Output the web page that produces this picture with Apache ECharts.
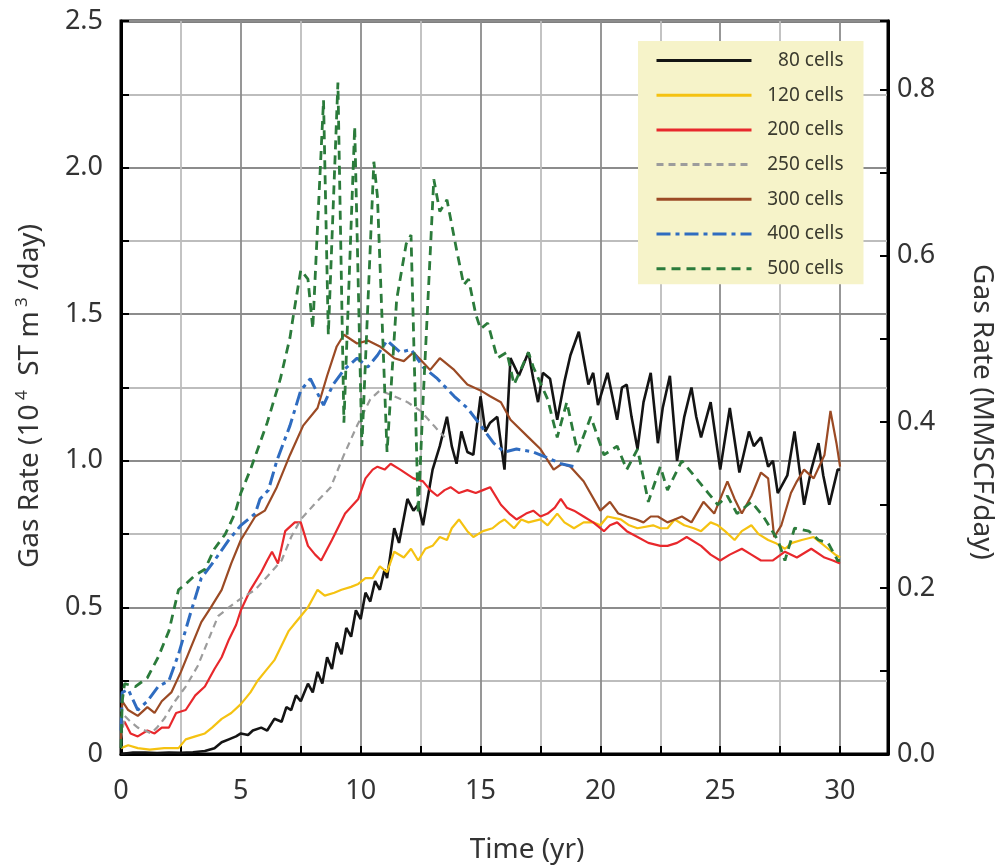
<!DOCTYPE html>
<html>
<head>
<meta charset="utf-8">
<script src="https://cdn.jsdelivr.net/npm/echarts@6/dist/echarts.min.js"></script>
<style>
html,body{margin:0;padding:0;background:#fff;}
#chart{width:1000px;height:868px;}
</style>
</head>
<body>
<div id="chart"></div>
<script>
// ---- data (time in years, rate in 10^4 ST m3/day) ----
const seriesNames = ['80 cells','120 cells','200 cells','250 cells','300 cells','400 cells','500 cells'];
const xTickLabels = ['0','5','10','15','20','25','30'];
const leftTickLabels = ['0','0.5','1.0','1.5','2.0','2.5'];
const rightTickLabels = ['0.0','0.2','0.4','0.6','0.8'];

const cells80 = [[0,0],[0.5,0.005],[1,0.005],[1.5,0.003],[2,0.005],[2.5,0.004],[3,0.006],[3.5,0.01],[3.9,0.02],[4.2,0.04],[4.5,0.05],[4.8,0.06],[5,0.07],[5.3,0.065],[5.5,0.08],[5.85,0.09],[6.1,0.08],[6.4,0.12],[6.7,0.11],[6.9,0.16],[7.1,0.15],[7.3,0.2],[7.5,0.18],[7.8,0.24],[8.0,0.21],[8.2,0.28],[8.4,0.24],[8.6,0.33],[8.8,0.29],[9.0,0.38],[9.2,0.34],[9.4,0.43],[9.6,0.4],[9.8,0.49],[10.0,0.46],[10.2,0.55],[10.4,0.52],[10.6,0.59],[10.8,0.56],[11.0,0.63],[11.1,0.6],[11.4,0.77],[11.6,0.72],[11.95,0.87],[12.2,0.83],[12.4,0.85],[12.6,0.78],[13.0,0.97],[13.3,1.05],[13.6,1.15],[13.8,1.05],[14.0,0.99],[14.2,1.1],[14.45,1.03],[14.7,1.02],[15.0,1.22],[15.2,1.1],[15.4,1.13],[15.7,1.15],[16.0,0.97],[16.25,1.35],[16.6,1.29],[17.0,1.37],[17.2,1.28],[17.4,1.2],[17.6,1.3],[17.9,1.28],[18.2,1.14],[18.5,1.27],[18.75,1.36],[19.1,1.44],[19.5,1.26],[19.7,1.3],[19.9,1.19],[20.3,1.3],[20.5,1.22],[20.7,1.14],[20.9,1.25],[21.1,1.26],[21.3,1.15],[21.55,1.04],[21.8,1.2],[22.1,1.3],[22.4,1.06],[22.6,1.18],[22.9,1.29],[23.2,1.0],[23.5,1.15],[23.8,1.25],[24.0,1.15],[24.2,1.08],[24.6,1.2],[25.0,0.97],[25.4,1.18],[25.8,0.96],[26.2,1.1],[26.4,1.05],[26.7,1.08],[27.0,0.98],[27.2,1.0],[27.4,0.89],[27.8,0.95],[28.1,1.1],[28.5,0.85],[28.8,0.97],[29.1,1.06],[29.3,0.95],[29.55,0.85],[29.9,0.97],[30,0.97]];

const cells120 = [[0,0.02],[0.3,0.03],[0.7,0.02],[1.2,0.015],[1.8,0.02],[2.4,0.02],[2.7,0.05],[3.1,0.06],[3.5,0.07],[3.8,0.09],[4.2,0.12],[4.6,0.14],[5,0.17],[5.4,0.21],[5.7,0.25],[6.0,0.28],[6.4,0.32],[6.7,0.37],[7.0,0.42],[7.3,0.45],[7.5,0.47],[7.8,0.5],[8.2,0.56],[8.5,0.54],[8.9,0.55],[9.2,0.56],[9.6,0.57],[9.9,0.58],[10.2,0.6],[10.5,0.6],[10.8,0.64],[11.1,0.62],[11.4,0.69],[11.8,0.67],[12.1,0.7],[12.4,0.66],[12.7,0.7],[13.0,0.71],[13.3,0.74],[13.6,0.73],[13.8,0.77],[14.1,0.8],[14.45,0.76],[14.7,0.74],[15.1,0.76],[15.5,0.77],[15.8,0.79],[16.0,0.8],[16.4,0.77],[16.7,0.8],[17.0,0.79],[17.5,0.8],[17.8,0.78],[18.2,0.82],[18.5,0.79],[18.9,0.77],[19.3,0.79],[19.7,0.79],[20.0,0.78],[20.3,0.81],[20.85,0.8],[21.2,0.78],[21.55,0.77],[22.2,0.78],[22.5,0.77],[22.8,0.77],[23.1,0.8],[23.5,0.78],[23.9,0.77],[24.2,0.76],[24.6,0.79],[24.9,0.78],[25.2,0.76],[25.6,0.73],[25.9,0.76],[26.3,0.78],[26.6,0.75],[27.0,0.73],[27.3,0.72],[27.7,0.7],[28.0,0.72],[28.4,0.73],[28.9,0.74],[29.2,0.72],[29.5,0.7],[29.8,0.68],[30,0.67]];

const cells200 = [[0,0.09],[0.15,0.11],[0.4,0.07],[0.7,0.06],[1.1,0.08],[1.4,0.07],[1.7,0.09],[2.0,0.09],[2.3,0.14],[2.7,0.15],[3.1,0.2],[3.5,0.23],[3.9,0.29],[4.2,0.33],[4.5,0.39],[4.8,0.44],[5,0.49],[5.4,0.56],[5.85,0.62],[6.1,0.66],[6.3,0.69],[6.55,0.65],[6.85,0.76],[7.25,0.79],[7.5,0.79],[7.8,0.71],[8.1,0.68],[8.35,0.66],[8.8,0.73],[9.35,0.82],[9.9,0.87],[10.2,0.94],[10.5,0.97],[10.7,0.98],[11.0,0.97],[11.25,0.99],[11.65,0.97],[12.2,0.94],[12.6,0.93],[12.9,0.9],[13.2,0.88],[13.5,0.9],[13.75,0.91],[14.1,0.89],[14.45,0.9],[14.8,0.89],[15.1,0.9],[15.4,0.91],[15.85,0.85],[16.2,0.82],[16.5,0.8],[16.9,0.82],[17.2,0.83],[17.5,0.81],[17.8,0.82],[18.1,0.84],[18.35,0.87],[18.6,0.84],[18.9,0.83],[19.3,0.81],[19.7,0.79],[20.15,0.76],[20.4,0.78],[20.7,0.79],[21.1,0.76],[21.55,0.74],[22.0,0.72],[22.5,0.71],[22.8,0.71],[23.2,0.72],[23.6,0.74],[24.2,0.71],[24.6,0.68],[25,0.66],[25.4,0.68],[25.9,0.7],[26.3,0.68],[26.7,0.66],[27.2,0.66],[27.7,0.69],[28.2,0.67],[28.8,0.7],[29.35,0.67],[29.7,0.66],[30,0.65]];

const cells250 = [[0,0.05],[0.15,0.13],[0.4,0.11],[0.7,0.09],[1.0,0.08],[1.25,0.07],[1.5,0.09],[1.8,0.12],[2.25,0.18],[2.7,0.23],[3.2,0.3],[3.6,0.38],[4.05,0.47],[4.5,0.5],[5,0.53],[5.6,0.56],[6.15,0.61],[6.7,0.66],[7.1,0.74],[7.5,0.8],[8.05,0.85],[8.75,0.91],[9.3,1.02],[9.85,1.12],[10.4,1.21],[10.8,1.24],[11.4,1.22],[11.95,1.2],[12.5,1.17],[13.05,1.12],[13.5,1.08]];

const cells300 = [[0,0.05],[0.05,0.18],[0.3,0.15],[0.7,0.13],[1.1,0.16],[1.4,0.14],[1.7,0.18],[2.1,0.21],[2.5,0.28],[2.9,0.36],[3.35,0.45],[3.75,0.5],[4.2,0.56],[4.6,0.65],[5,0.73],[5.6,0.81],[6.0,0.83],[6.5,0.91],[7.05,1.02],[7.6,1.12],[8.2,1.18],[8.6,1.29],[9.0,1.39],[9.3,1.43],[9.85,1.4],[10.3,1.41],[10.8,1.39],[11.4,1.35],[11.8,1.34],[12.2,1.37],[12.9,1.31],[13.3,1.35],[13.9,1.31],[14.45,1.26],[15.0,1.24],[15.4,1.22],[15.85,1.2],[16.25,1.14],[17.0,1.08],[17.5,1.04],[18.05,0.97],[18.4,0.99],[18.75,0.98],[19.3,0.93],[20.0,0.83],[20.4,0.86],[20.75,0.82],[21.1,0.81],[21.5,0.8],[21.8,0.79],[22.1,0.81],[22.4,0.81],[22.8,0.79],[23.1,0.8],[23.4,0.81],[23.8,0.79],[24.3,0.86],[24.75,0.82],[25.3,0.93],[25.6,0.87],[25.9,0.82],[26.3,0.88],[26.7,0.96],[27.0,0.94],[27.25,0.74],[27.55,0.78],[27.95,0.89],[28.2,0.93],[28.5,0.97],[28.9,0.94],[29.35,1.02],[29.6,1.17],[29.85,1.06],[30,0.98]];

const cells400 = [[0,0.08],[0.05,0.21],[0.3,0.22],[0.7,0.15],[1.1,0.18],[1.55,0.23],[2.0,0.25],[2.4,0.34],[2.9,0.48],[3.35,0.6],[3.9,0.66],[4.5,0.73],[5,0.78],[5.6,0.82],[5.8,0.87],[6.15,0.9],[6.5,1.0],[7.05,1.12],[7.5,1.24],[7.9,1.28],[8.2,1.23],[8.45,1.19],[8.85,1.26],[9.3,1.31],[9.85,1.35],[10.3,1.32],[10.7,1.36],[11.1,1.41],[11.65,1.37],[12.1,1.38],[12.6,1.32],[13.2,1.28],[13.9,1.22],[14.45,1.18],[15.1,1.11],[15.55,1.06],[16.0,1.03],[16.5,1.04],[17.2,1.03],[17.8,1.01],[18.35,0.99],[18.9,0.98],[19.0,0.98]];

const cells500 = [[0,0.02],[0.05,0.18],[0.15,0.24],[0.6,0.23],[1.1,0.26],[1.55,0.33],[2.0,0.42],[2.4,0.56],[2.7,0.58],[3.1,0.61],[3.5,0.63],[3.9,0.7],[4.35,0.75],[4.75,0.82],[5.0,0.89],[5.4,0.97],[6.1,1.13],[6.65,1.28],[7.05,1.42],[7.2,1.5],[7.5,1.65],[7.8,1.62],[8.0,1.45],[8.2,1.8],[8.45,2.23],[8.65,1.43],[9.05,2.29],[9.3,1.13],[9.75,2.14],[10.05,1.05],[10.55,2.02],[10.7,1.9],[11.1,1.03],[11.5,1.55],[11.9,1.74],[12.1,1.77],[12.4,0.82],[12.6,1.2],[13.05,1.96],[13.3,1.85],[13.6,1.89],[14.0,1.72],[14.3,1.6],[14.5,1.62],[14.8,1.5],[15.0,1.45],[15.3,1.47],[15.7,1.35],[16.1,1.37],[16.4,1.26],[17.0,1.37],[17.2,1.32],[17.8,1.21],[18.2,1.08],[18.6,1.2],[19.05,1.03],[19.6,1.15],[20.15,1.02],[20.7,1.05],[21.1,0.97],[21.55,1.04],[22.0,0.86],[22.5,0.98],[22.8,0.9],[23.4,1.0],[23.9,0.95],[24.5,0.89],[24.9,0.85],[25.3,0.88],[25.7,0.82],[26.3,0.86],[26.8,0.81],[27.4,0.73],[27.7,0.66],[28.1,0.77],[28.7,0.76],[29.1,0.73],[29.5,0.72],[29.9,0.66],[30,0.66]];

const seriesData = [cells80, cells120, cells200, cells250, cells300, cells400, cells500];

// ---- styling ----
const FONT = 'Noto Sans';
const styles = [
  {color:'#141414', width:2.6, type:'solid'},
  {color:'#f5c211', width:2.2, type:'solid'},
  {color:'#e8282c', width:2.2, type:'solid'},
  {color:'#9c9c9c', width:2.2, type:[7,5]},
  {color:'#9b4a24', width:2.2, type:'solid'},
  {color:'#2f6cc0', width:3, type:[14,5,4,5]},
  {color:'#2b7b3b', width:2.8, type:[9,6]}
];

const chart = echarts.init(document.getElementById('chart'), null, {renderer:'canvas'});

const gridColors = ['#8c8c8c','#bdbdbd'];
const series = seriesNames.map((name, i) => ({
  name: name,
  type: 'line',
  data: seriesData[i],
  showSymbol: false,
  symbol: 'none',
  smooth: false,
  lineStyle: {color: styles[i].color, width: styles[i].width, type: styles[i].type},
  itemStyle: {color: styles[i].color},
  z: 3 + i
}));

const option = {
  animation: false,
  backgroundColor: '#ffffff',
  textStyle: {fontFamily: FONT},
  grid: {left:121, top:21, right:112, bottom:114, show:true, borderColor:'#000', borderWidth:3, backgroundColor:'transparent', containLabel:false},
  legend: {
    orient: 'vertical',
    left: 638, top: 41,
    backgroundColor: '#f6f3c9',
    padding: [10, 20, 6, 17],
    itemWidth: 95, itemHeight: 20, itemGap: 15.7,
    lineStyle: {width: 3},
    itemStyle: {opacity: 0},
    data: seriesNames,
    formatter: name => '{t|' + name + '}',
    textStyle: {
      color: '#3a3a2e', fontSize: 19, fontFamily: FONT,
      rich: {t: {width: 87, align: 'right', fontSize: 19, fontFamily: FONT, color: '#3a3a2e'}}
    }
  },
  xAxis: {
    type: 'value', min: 0, max: 32, interval: 2.5,
    axisLine: {show: true, onZero: false, lineStyle: {color:'#000', width:3}},
    axisTick: {show: true, inside: true, length: 8, lineStyle: {color:'#000', width:2}},
    axisLabel: {
      margin: 24, fontSize: 27, color: '#333', fontFamily: FONT,
      formatter: v => (Math.abs(v % 5) < 1e-9 && v <= 30) ? xTickLabels[Math.round(v / 5)] : ''
    },
    splitLine: {show: true, lineStyle: {color: gridColors, width: 1.8}}
  },
  yAxis: [
    {
      type: 'value', min: 0, max: 2.5, interval: 0.25, position: 'left',
      axisLine: {show: true, lineStyle: {color:'#000', width:3}},
      axisTick: {show: true, inside: true, length: 8, lineStyle: {color:'#000', width:2}},
      axisLabel: {
        margin: 18, fontSize: 27, color: '#333', fontFamily: FONT,
        formatter: v => { const k = Math.round(v / 0.5); return Math.abs(v - k * 0.5) < 1e-9 ? leftTickLabels[k] : ''; }
      },
      splitLine: {show: true, lineStyle: {color: gridColors, width: 1.8}}
    },
    {
      type: 'value', min: 0, max: 0.8828, interval: 0.1, position: 'right',
      axisLine: {show: true, lineStyle: {color:'#000', width:3}},
      axisTick: {show: true, inside: true, length: 8, lineStyle: {color:'#000', width:2}},
      axisLabel: {
        margin: 9, fontSize: 27, color: '#333', fontFamily: FONT,
        formatter: v => { const k = Math.round(v / 0.2); return (Math.abs(v - k * 0.2) < 1e-9 && k < rightTickLabels.length) ? rightTickLabels[k] : ''; }
      },
      splitLine: {show: false}
    }
  ],
  graphic: [
    {type:'text', x: 527, y: 850, style:{text:'Time (yr)', font: '28px "Noto Sans"', fill:'#333', align:'center', verticalAlign:'middle'}},
    {type:'text', x: 30, y: 396, rotation: Math.PI/2,
      style:{
        text:'{a|Gas Rate (10}{s| 4}{a|  ST m}{s| 3}{a| /day)}',
        align:'center', verticalAlign:'middle', fill:'#333',
        rich:{
          a:{fontSize: 28, fontFamily: FONT, fill:'#333', color:'#333', lineHeight: 32},
          s:{fontSize: 17, fontFamily: FONT, fill:'#333', color:'#333', verticalAlign:'top', lineHeight: 20}
        }
      }},
    {type:'text', x: 982, y: 412, rotation: -Math.PI/2, style:{text:'Gas Rate (MMSCF/day)', font: '28px "Noto Sans"', fill:'#333', align:'center', verticalAlign:'middle'}}
  ],
  series: series
};
chart.setOption(option);
</script>
</body>
</html>
